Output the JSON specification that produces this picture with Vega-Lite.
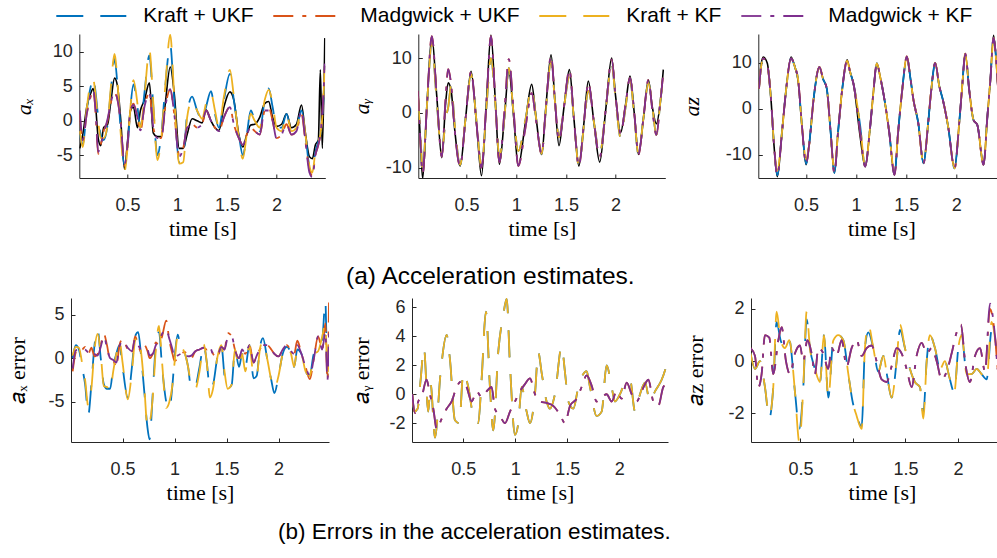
{
"$schema":"https://vega.github.io/schema/vega-lite/v6.json",
"background":"white",
"padding":{"left":6,"top":-20,"right":0,"bottom":0},
"config":{
 "view":{"stroke":null},
 "axis":{"grid":false,"domainColor":"#262626","domainWidth":1,"tickColor":"#262626","tickSize":-4,"tickWidth":1,
   "labelFont":"Liberation Sans","labelFontSize":18,"labelColor":"#262626","labelFlush":false,
   "titleFont":"Liberation Serif","titleFontSize":22,"titleFontWeight":"normal","titleColor":"#000000"},
 "axisX":{"titlePadding":4,"labelPadding":22},
 "axisY":{"labelPadding":11},
 "line":{"strokeWidth":1.8,"interpolate":"monotone"},
 "title":{"font":"Liberation Sans","fontSize":22.5,"fontWeight":"normal","color":"#000000","orient":"bottom","anchor":"start","frame":"group"}
},
"datasets":{
 "names":[{"k":"A","n":"Kraft + UKF"},{"k":"B","n":"Madgwick + UKF"},{"k":"C","n":"Kraft + KF"},{"k":"D","n":"Madgwick + KF"}],
 "ax":[
{"t":0.02,"A":-2,"B":1,"C":-1.5,"D":1.5,"T":-4},
{"t":0.05,"A":-3.5,"B":-3,"C":-3.8,"D":-2.8,"T":-2},
{"t":0.09,"A":1.5,"B":1,"C":1.8,"D":1,"T":2},
{"t":0.13,"A":5,"B":3.5,"C":5.5,"D":3.8,"T":4},
{"t":0.155,"A":6.3,"B":4.5,"C":6,"D":4.5,"T":4.7},
{"t":0.18,"A":4,"B":1,"C":3.5,"D":1.2,"T":2},
{"t":0.205,"A":0.5,"B":-4.8,"C":0,"D":-4.5,"T":-2.5},
{"t":0.23,"A":-2,"B":-3.5,"C":-2.5,"D":-3.5,"T":-3.6},
{"t":0.26,"A":-2.8,"B":-1.5,"C":-2.5,"D":-1.8,"T":-1},
{"t":0.3,"A":-0.5,"B":0,"C":-0.5,"D":0.3,"T":-0.5},
{"t":0.33,"A":4,"B":2.5,"C":4.5,"D":2.5,"T":2.5},
{"t":0.37,"A":9,"B":4,"C":9.7,"D":4.2,"T":6.2},
{"t":0.4,"A":5,"B":3,"C":5.5,"D":3,"T":5},
{"t":0.43,"A":-1,"B":0,"C":-1.5,"D":0,"T":0.5},
{"t":0.47,"A":-6.5,"B":-6.5,"C":-7.3,"D":-6.3,"T":-7},
{"t":0.5,"A":-4,"B":-3.5,"C":-4,"D":-3.5,"T":-3},
{"t":0.53,"A":2,"B":1.5,"C":2,"D":1.5,"T":1.5},
{"t":0.56,"A":5.3,"B":2.5,"C":5.9,"D":2.3,"T":2},
{"t":0.6,"A":2,"B":0.5,"C":2.5,"D":0.5,"T":-1},
{"t":0.63,"A":-1,"B":-1.5,"C":-1,"D":-1.4,"T":1.5},
{"t":0.67,"A":4,"B":2,"C":3.5,"D":2,"T":3},
{"t":0.72,"A":9.5,"B":4,"C":10.3,"D":4,"T":5.5},
{"t":0.76,"A":2,"B":-1,"C":2.5,"D":-1,"T":-1.8},
{"t":0.8,"A":-5,"B":-2.5,"C":-5.7,"D":-2.5,"T":-2.3},
{"t":0.84,"A":-2,"B":-2.5,"C":-2.5,"D":-2.5,"T":-2.3},
{"t":0.88,"A":5,"B":2,"C":5,"D":2,"T":2.5},
{"t":0.93,"A":11,"B":4.5,"C":12.5,"D":4.6,"T":7.8},
{"t":0.97,"A":3,"B":1,"C":3.5,"D":1,"T":4},
{"t":1.02,"A":-6,"B":-5,"C":-6.2,"D":-5.2,"T":-4},
{"t":1.06,"A":-5.5,"B":-4,"C":-6,"D":-4,"T":-4},
{"t":1.1,"A":1,"B":-1,"C":0.5,"D":-1,"T":-2},
{"t":1.15,"A":3.5,"B":-0.5,"C":3,"D":-0.6,"T":0.3},
{"t":1.2,"A":1.5,"B":-1,"C":1.5,"D":-1,"T":0},
{"t":1.25,"A":0,"B":-0.5,"C":0.3,"D":-0.5,"T":-0.3},
{"t":1.29,"A":2,"B":1.5,"C":2.5,"D":1.5,"T":1.6},
{"t":1.34,"A":4.3,"B":0,"C":4,"D":0,"T":0},
{"t":1.38,"A":1,"B":-1,"C":1.5,"D":-1,"T":-1},
{"t":1.42,"A":-1,"B":-1.5,"C":-1,"D":-1.5,"T":-1.4},
{"t":1.47,"A":3,"B":0.5,"C":3.5,"D":0.5,"T":2},
{"t":1.53,"A":6.8,"B":2,"C":7.4,"D":2,"T":4.2},
{"t":1.57,"A":3,"B":-0.5,"C":3.5,"D":-0.5,"T":3},
{"t":1.62,"A":-2,"B":-2.5,"C":-2.5,"D":-2.5,"T":-2},
{"t":1.66,"A":-5,"B":-3.5,"C":-5.5,"D":-3.5,"T":-3.8},
{"t":1.7,"A":-2,"B":-2,"C":-2,"D":-2,"T":-2},
{"t":1.74,"A":1.5,"B":-1,"C":1,"D":-1,"T":-0.6},
{"t":1.78,"A":0,"B":-1.5,"C":0,"D":-1.5,"T":-0.5},
{"t":1.83,"A":-1.5,"B":-2,"C":-1,"D":-2,"T":0.5},
{"t":1.88,"A":3,"B":1.5,"C":3,"D":1.5,"T":2.5},
{"t":1.92,"A":4.7,"B":2,"C":4.5,"D":1.5,"T":2.8},
{"t":1.96,"A":2,"B":0,"C":2.5,"D":0,"T":0.5},
{"t":2.0,"A":-1,"B":-2.5,"C":-1,"D":-2.6,"T":-0.8},
{"t":2.05,"A":-1,"B":-2,"C":-1.5,"D":-2,"T":-0.5},
{"t":2.1,"A":1,"B":-0.5,"C":1,"D":-0.5,"T":1},
{"t":2.15,"A":-1.5,"B":-2,"C":-1.5,"D":-2,"T":-1},
{"t":2.2,"A":-1,"B":-1.5,"C":-1,"D":-1.5,"T":-0.5},
{"t":2.25,"A":1.5,"B":1,"C":1.5,"D":1.5,"T":2.3},
{"t":2.29,"A":-2,"B":-3,"C":-2,"D":-3,"T":-1.8},
{"t":2.33,"A":-6.5,"B":-7,"C":-6.5,"D":-7.5,"T":-5.2},
{"t":2.36,"A":-7,"B":-8,"C":-7.5,"D":-8.2,"T":-5.5},
{"t":2.39,"A":-4.5,"B":-5,"C":-4.5,"D":-5,"T":-3.5},
{"t":2.42,"A":-3,"B":-3.5,"C":-3,"D":-3.5,"T":-2.8},
{"t":2.44,"A":-2,"B":-2,"C":-2,"D":-2,"T":7.4},
{"t":2.46,"A":0,"B":1,"C":0.5,"D":1,"T":-4},
{"t":2.485,"A":8,"B":8,"C":8,"D":8.3,"T":12}
 ],
 "ay":[
{"t":0.01,"A":3,"B":4,"C":3,"D":4,"T":4},
{"t":0.035,"A":-4,"B":-5,"C":-4,"D":-5,"T":-5},
{"t":0.058,"A":-10.5,"B":-11,"C":-10.5,"D":-11,"T":-12},
{"t":0.1,"A":1,"B":1,"C":1,"D":1,"T":1},
{"t":0.15,"A":12.5,"B":14,"C":12.5,"D":14,"T":14},
{"t":0.2,"A":2,"B":3,"C":2,"D":3,"T":3},
{"t":0.25,"A":-7.5,"B":-8,"C":-7.5,"D":-8,"T":-8.2},
{"t":0.29,"A":-1,"B":3,"C":-1,"D":3,"T":2},
{"t":0.315,"A":1,"B":8,"C":1,"D":8,"T":5.5},
{"t":0.345,"A":5,"B":5,"C":5,"D":5,"T":4},
{"t":0.38,"A":-2,"B":-3,"C":-2,"D":-3,"T":-3},
{"t":0.435,"A":-9.5,"B":-9.7,"C":-9.5,"D":-9.7,"T":-9.7},
{"t":0.49,"A":-1,"B":-1,"C":-1,"D":-1,"T":-1},
{"t":0.545,"A":7,"B":7.5,"C":7,"D":7.5,"T":7.6},
{"t":0.6,"A":-1.5,"B":-2,"C":-1.5,"D":-2,"T":-2},
{"t":0.65,"A":-10,"B":-10,"C":-10,"D":-10,"T":-11.5},
{"t":0.7,"A":1,"B":2,"C":1,"D":2,"T":2},
{"t":0.745,"A":10,"B":14,"C":10,"D":14,"T":14.2},
{"t":0.79,"A":1.5,"B":2,"C":1.5,"D":2,"T":2},
{"t":0.83,"A":-8,"B":-9,"C":-8,"D":-9,"T":-9.4},
{"t":0.88,"A":-1,"B":0,"C":-1,"D":0,"T":-1},
{"t":0.925,"A":8.2,"B":9.8,"C":8.2,"D":9.8,"T":7.6},
{"t":0.975,"A":-0.5,"B":0,"C":-0.5,"D":0,"T":-1},
{"t":1.02,"A":-7,"B":-9.7,"C":-7,"D":-9.7,"T":-9.7},
{"t":1.09,"A":-1.5,"B":-3,"C":-1.5,"D":-3,"T":-2},
{"t":1.155,"A":4.5,"B":3.6,"C":4.5,"D":3.6,"T":5.2},
{"t":1.2,"A":-1,"B":-1.5,"C":-1,"D":-1.5,"T":-1},
{"t":1.255,"A":-7.5,"B":-7.5,"C":-7.5,"D":-7.5,"T":-7.6},
{"t":1.3,"A":1,"B":1.5,"C":1,"D":1.5,"T":1.5},
{"t":1.35,"A":9.4,"B":10.4,"C":9.4,"D":10.4,"T":10.6},
{"t":1.39,"A":2,"B":2,"C":2,"D":2,"T":2},
{"t":1.43,"A":-4.5,"B":-5,"C":-4.5,"D":-5,"T":-6},
{"t":1.48,"A":1,"B":1,"C":1,"D":1,"T":1},
{"t":1.535,"A":6.7,"B":7.9,"C":6.7,"D":7.9,"T":7.9},
{"t":1.58,"A":-1,"B":-1,"C":-1,"D":-1,"T":-1},
{"t":1.63,"A":-9.7,"B":-9.7,"C":-9.7,"D":-9.7,"T":-9.7},
{"t":1.68,"A":-2.5,"B":-2,"C":-2.5,"D":-2,"T":-2},
{"t":1.725,"A":4,"B":5.5,"C":4,"D":5.5,"T":5.8},
{"t":1.78,"A":-1.5,"B":-1.5,"C":-1.5,"D":-1.5,"T":-1.5},
{"t":1.84,"A":-7.5,"B":-8,"C":-7.5,"D":-8,"T":-9},
{"t":1.9,"A":0.5,"B":0.5,"C":0.5,"D":0.5,"T":0.5},
{"t":1.96,"A":9,"B":9.7,"C":9,"D":9.7,"T":10},
{"t":2.0,"A":2.5,"B":3,"C":2.5,"D":3,"T":3},
{"t":2.05,"A":-4.5,"B":-3.8,"C":-4.5,"D":-3.8,"T":-3.6},
{"t":2.1,"A":1,"B":1.5,"C":1,"D":1.5,"T":1.5},
{"t":2.145,"A":6,"B":6.4,"C":6,"D":6.4,"T":6.7},
{"t":2.19,"A":-1,"B":-0.5,"C":-1,"D":-0.5,"T":-0.5},
{"t":2.23,"A":-7.6,"B":-7.6,"C":-7.6,"D":-7.6,"T":-7.6},
{"t":2.28,"A":-1,"B":-1,"C":-1,"D":-1,"T":-1},
{"t":2.33,"A":5.5,"B":6,"C":5.5,"D":6,"T":6},
{"t":2.37,"A":1,"B":0.5,"C":1,"D":0.5,"T":1},
{"t":2.41,"A":-4,"B":-4,"C":-4,"D":-4,"T":-2},
{"t":2.45,"A":2,"B":2,"C":2,"D":2,"T":2},
{"t":2.48,"A":7,"B":7.3,"C":7,"D":7.3,"T":7.9}
 ],
 "az":[
{"t":0.03,"A":4.4,"B":4.4,"C":4.4,"D":4.4,"T":4.4},
{"t":0.05,"A":9,"B":9,"C":9,"D":9,"T":9.5},
{"t":0.073,"A":11,"B":11,"C":11,"D":11,"T":11.3},
{"t":0.113,"A":9.5,"B":9.5,"C":9.5,"D":9.5,"T":9.9},
{"t":0.15,"A":2,"B":2,"C":2,"D":2,"T":2},
{"t":0.18,"A":-8,"B":-8,"C":-8,"D":-8,"T":-8},
{"t":0.213,"A":-14.5,"B":-14.5,"C":-13.5,"D":-14.5,"T":-14.8},
{"t":0.26,"A":-5,"B":-5,"C":-5,"D":-5,"T":-5},
{"t":0.3,"A":4,"B":4,"C":4,"D":4,"T":4},
{"t":0.35,"A":11,"B":11,"C":11,"D":11,"T":11.3},
{"t":0.39,"A":9,"B":9,"C":9,"D":9,"T":9},
{"t":0.42,"A":6.5,"B":6.5,"C":6.5,"D":6.5,"T":6.2},
{"t":0.46,"A":-4,"B":-4,"C":-4,"D":-4,"T":-4},
{"t":0.5,"A":-12,"B":-12,"C":-11,"D":-12,"T":-12.2},
{"t":0.53,"A":-8,"B":-8,"C":-8,"D":-8,"T":-8},
{"t":0.58,"A":3,"B":3,"C":3,"D":3,"T":3},
{"t":0.633,"A":9.1,"B":9.1,"C":9.1,"D":9.1,"T":9.1},
{"t":0.67,"A":6.5,"B":6.5,"C":6.5,"D":6.5,"T":6.5},
{"t":0.707,"A":4.4,"B":4.4,"C":4.4,"D":4.4,"T":4.4},
{"t":0.745,"A":-5,"B":-5,"C":-5,"D":-5,"T":-5},
{"t":0.783,"A":-14,"B":-14,"C":-13.5,"D":-14,"T":-14},
{"t":0.82,"A":-5,"B":-5,"C":-5,"D":-5,"T":-5},
{"t":0.86,"A":4,"B":4,"C":4,"D":4,"T":4},
{"t":0.91,"A":10.5,"B":10.5,"C":10.5,"D":10.5,"T":10.7},
{"t":0.94,"A":8,"B":8,"C":8,"D":8,"T":8},
{"t":0.973,"A":5.5,"B":5.5,"C":5.5,"D":5.5,"T":5.5},
{"t":1.04,"A":-3.6,"B":-5,"C":-3.6,"D":-5,"T":-6},
{"t":1.09,"A":-12.6,"B":-12.6,"C":-12.6,"D":-12.6,"T":-12.6},
{"t":1.14,"A":-4,"B":-4,"C":-4,"D":-4,"T":-4},
{"t":1.17,"A":3,"B":3,"C":3,"D":3,"T":3},
{"t":1.207,"A":9.9,"B":9.9,"C":9.9,"D":9.9,"T":9.9},
{"t":1.24,"A":7,"B":7,"C":7,"D":7,"T":7},
{"t":1.273,"A":3.3,"B":3.3,"C":3.3,"D":3.3,"T":3.3},
{"t":1.33,"A":-5,"B":-5,"C":-5,"D":-5,"T":-5},
{"t":1.383,"A":-14.4,"B":-14.4,"C":-14,"D":-14.4,"T":-14.4},
{"t":1.42,"A":-5,"B":-5,"C":-5,"D":-5,"T":-5},
{"t":1.46,"A":4,"B":4,"C":4,"D":4,"T":4},
{"t":1.507,"A":11.4,"B":11.4,"C":11.4,"D":11.4,"T":11.4},
{"t":1.54,"A":7,"B":7,"C":7,"D":7,"T":7},
{"t":1.573,"A":1.9,"B":1.9,"C":1.9,"D":1.9,"T":1.9},
{"t":1.62,"A":-3,"B":-3,"C":-3,"D":-3,"T":-3},
{"t":1.673,"A":-11.9,"B":-11.9,"C":-11.9,"D":-11.9,"T":-11.9},
{"t":1.72,"A":-3,"B":-3,"C":-3,"D":-3,"T":-3},
{"t":1.75,"A":4,"B":4,"C":4,"D":4,"T":4},
{"t":1.79,"A":10,"B":10,"C":10,"D":10,"T":10},
{"t":1.83,"A":5,"B":5,"C":5,"D":5,"T":5},
{"t":1.867,"A":1.9,"B":1.9,"C":1.9,"D":1.9,"T":1.9},
{"t":1.92,"A":-4,"B":-4,"C":-4,"D":-4,"T":-4},
{"t":1.983,"A":-13,"B":-13,"C":-13,"D":-13,"T":-13},
{"t":2.03,"A":-3,"B":-3,"C":-3,"D":-3,"T":-3},
{"t":2.06,"A":5,"B":5,"C":5,"D":5,"T":5},
{"t":2.09,"A":12,"B":12,"C":12,"D":12,"T":12},
{"t":2.13,"A":4,"B":4,"C":4,"D":4,"T":4},
{"t":2.173,"A":-2.5,"B":-2.5,"C":-2.5,"D":-2.5,"T":-2.5},
{"t":2.21,"A":-3.5,"B":-3.5,"C":-3.5,"D":-3.5,"T":-3.5},
{"t":2.273,"A":-12.2,"B":-12.2,"C":-12.2,"D":-12.2,"T":-12.2},
{"t":2.31,"A":-2,"B":-2,"C":-2,"D":-2,"T":-2},
{"t":2.34,"A":6,"B":6,"C":6,"D":6,"T":6},
{"t":2.373,"A":15.5,"B":15.5,"C":15.5,"D":15.5,"T":16},
{"t":2.41,"A":7,"B":7,"C":7,"D":7,"T":7},
{"t":2.44,"A":-3.2,"B":-3.2,"C":-3.2,"D":-3.2,"T":-3.2},
{"t":2.47,"A":-8,"B":-8,"C":-8,"D":-8,"T":-8}
 ],
 "exa":[
{"t":0.02,"A":0,"B":-1.5,"C":0.3,"D":-1.2},
{"t":0.05,"A":1.5,"B":0.7,"C":1.3,"D":0.9},
{"t":0.08,"A":1,"B":1.2,"C":1.2,"D":1},
{"t":0.11,"A":-1,"B":1,"C":-0.5,"D":1.2},
{"t":0.14,"A":-3,"B":1.3,"C":-2.5,"D":1},
{"t":0.17,"A":-6.5,"B":0.5,"C":-5.5,"D":0.7},
{"t":0.2,"A":-3,"B":1.2,"C":-3.5,"D":1},
{"t":0.23,"A":1.5,"B":0.2,"C":1,"D":0.5},
{"t":0.26,"A":3.3,"B":0.5,"C":2.8,"D":0.3},
{"t":0.29,"A":0,"B":1.5,"C":0.5,"D":1.3},
{"t":0.32,"A":-3,"B":2.8,"C":-3.2,"D":2.5},
{"t":0.35,"A":-3.5,"B":1.5,"C":-3.3,"D":1.2},
{"t":0.38,"A":-3.5,"B":-0.2,"C":-3.8,"D":0},
{"t":0.41,"A":-1,"B":-0.3,"C":-1.5,"D":-0.2},
{"t":0.44,"A":0.5,"B":-1,"C":0.5,"D":-0.5},
{"t":0.47,"A":1.5,"B":1.5,"C":2,"D":1.3},
{"t":0.5,"A":-1,"B":2.2,"C":-0.5,"D":2},
{"t":0.55,"A":-4.5,"B":1,"C":-4.7,"D":1.2},
{"t":0.59,"A":-1,"B":0.5,"C":-1.5,"D":0.8},
{"t":0.62,"A":2.5,"B":2.5,"C":2,"D":2.2},
{"t":0.65,"A":3,"B":1.5,"C":2.5,"D":1.5},
{"t":0.68,"A":0,"B":0.7,"C":0.5,"D":1},
{"t":0.71,"A":-4,"B":1.5,"C":-3.5,"D":1.2},
{"t":0.74,"A":-8,"B":0.8,"C":-8,"D":1},
{"t":0.76,"A":-9.3,"B":0,"C":-7.5,"D":0.3},
{"t":0.79,"A":-4,"B":0.5,"C":-4.5,"D":0.5},
{"t":0.82,"A":1.5,"B":1.8,"C":1,"D":1.5},
{"t":0.85,"A":3,"B":1.5,"C":3.7,"D":2},
{"t":0.88,"A":-1,"B":2.5,"C":-0.5,"D":2.8},
{"t":0.92,"A":-5,"B":4.3,"C":-5.7,"D":3.3},
{"t":0.95,"A":-5.8,"B":2,"C":-5,"D":2.2},
{"t":0.98,"A":-3,"B":0.5,"C":-3,"D":1},
{"t":1.0,"A":0,"B":-0.3,"C":-0.5,"D":0},
{"t":1.03,"A":2.7,"B":0,"C":2.5,"D":0.3},
{"t":1.06,"A":1,"B":0.5,"C":1.5,"D":0.5},
{"t":1.1,"A":0.5,"B":0.7,"C":0.5,"D":0.7},
{"t":1.13,"A":-1,"B":0.2,"C":-1,"D":0.2},
{"t":1.16,"A":-3.5,"B":0,"C":-3,"D":0.3},
{"t":1.2,"A":-3.2,"B":0.8,"C":-3.5,"D":0.8},
{"t":1.24,"A":-1,"B":1,"C":-1.5,"D":1},
{"t":1.28,"A":1.5,"B":1.2,"C":1.6,"D":1.2},
{"t":1.31,"A":-0.5,"B":1,"C":-0.5,"D":1},
{"t":1.34,"A":-3.5,"B":1.3,"C":-4.5,"D":1.2},
{"t":1.37,"A":-3,"B":0.5,"C":-3.5,"D":0.5},
{"t":1.41,"A":0,"B":0,"C":0,"D":0.3},
{"t":1.45,"A":1.5,"B":1.3,"C":1.5,"D":1.3},
{"t":1.48,"A":-2,"B":1,"C":-1.5,"D":1},
{"t":1.51,"A":-3.5,"B":2.9,"C":-3.5,"D":2.3},
{"t":1.55,"A":-3,"B":2.5,"C":-3,"D":2.5},
{"t":1.58,"A":1,"B":1,"C":1,"D":1},
{"t":1.62,"A":-1,"B":0,"C":-1,"D":0},
{"t":1.65,"A":0.5,"B":1,"C":0.5,"D":1},
{"t":1.68,"A":-1,"B":0.5,"C":-1.5,"D":0.5},
{"t":1.72,"A":1.5,"B":1.5,"C":1.5,"D":1.5},
{"t":1.76,"A":-2.3,"B":-0.5,"C":-2,"D":-0.5},
{"t":1.79,"A":-2,"B":0.3,"C":-2,"D":0.3},
{"t":1.82,"A":1.2,"B":1,"C":1,"D":1},
{"t":1.85,"A":2.3,"B":1.5,"C":2,"D":1.5},
{"t":1.89,"A":0,"B":1.5,"C":0,"D":1.5},
{"t":1.93,"A":-2.5,"B":1,"C":-2.5,"D":1},
{"t":1.96,"A":-4,"B":0.5,"C":-3.5,"D":0.5},
{"t":2.0,"A":-2,"B":0.2,"C":-2,"D":0.2},
{"t":2.04,"A":0.5,"B":1,"C":0.5,"D":1},
{"t":2.08,"A":1.3,"B":1.5,"C":1.3,"D":1.5},
{"t":2.12,"A":0.5,"B":0.8,"C":0.5,"D":0.8},
{"t":2.15,"A":-1,"B":0.5,"C":-1,"D":0.5},
{"t":2.18,"A":1,"B":2,"C":1,"D":1.5},
{"t":2.22,"A":0.5,"B":0.5,"C":0.5,"D":0.5},
{"t":2.26,"A":-1.5,"B":-1,"C":-1.5,"D":-1},
{"t":2.3,"A":-2,"B":-2.4,"C":-2,"D":-2},
{"t":2.34,"A":0.5,"B":0,"C":0.5,"D":0},
{"t":2.38,"A":0.8,"B":2.5,"C":0.8,"D":2.5},
{"t":2.42,"A":2,"B":1,"C":2.5,"D":1},
{"t":2.45,"A":6.5,"B":4,"C":4,"D":3},
{"t":2.47,"A":-2,"B":-2.5,"C":-2,"D":-2.5},
{"t":2.485,"A":1,"B":6.5,"C":1.5,"D":3}
 ],
 "eya":[
{"t":0.01,"A":0,"C":0},{"t":0.029,"A":-1.2,"C":-1.2},{"t":0.061,"A":-1,"C":-1},{"t":0.09,"A":1,"C":1},{"t":0.122,"A":3.2,"C":3.2},{"t":0.163,"A":-1.2,"C":-1.2},{"t":0.186,"A":0.7,"C":0.7},{"t":0.228,"A":-3,"C":-3},{"t":0.282,"A":1.5,"C":1.5},{"t":0.34,"A":4.1,"C":4.1},{"t":0.372,"A":2.4,"C":2.4},{"t":0.42,"A":-1.8,"C":-1.8},{"t":0.462,"A":-2,"C":-2},{"t":0.5,"A":1.5,"C":1.5},{"t":0.548,"A":0.5,"C":0.5},{"t":0.596,"A":-1.5,"C":-1.5},{"t":0.644,"A":-2,"C":-2},{"t":0.676,"A":1,"C":1},{"t":0.718,"A":5.7,"C":5.7},{"t":0.756,"A":0.5,"C":0.5},{"t":0.788,"A":-2.5,"C":-2.5},{"t":0.837,"A":3,"C":3},{"t":0.885,"A":5.5,"C":5.5},{"t":0.917,"A":6.6,"C":6.6},{"t":0.949,"A":2,"C":2},{"t":0.997,"A":-2.8,"C":-2.8},{"t":1.029,"A":-2,"C":-2},{"t":1.061,"A":0.5,"C":0.5},{"t":1.109,"A":-1.2,"C":-1.2},{"t":1.141,"A":-2,"C":-2},{"t":1.189,"A":0,"C":0},{"t":1.221,"A":2.9,"C":2.9},{"t":1.253,"A":1.5,"C":1.5},{"t":1.301,"A":-0.5,"C":-0.5},{"t":1.333,"A":-1,"C":-1},{"t":1.381,"A":0,"C":0},{"t":1.446,"A":3.3,"C":3.3},{"t":1.478,"A":1.5,"C":1.5},{"t":1.51,"A":-0.5,"C":-0.5},{"t":1.558,"A":-1,"C":-1},{"t":1.606,"A":0.5,"C":0.5},{"t":1.686,"A":1.6,"C":1.6},{"t":1.718,"A":0.5,"C":0.5},{"t":1.782,"A":-1.5,"C":-1.5},{"t":1.83,"A":-1.2,"C":-1.2},{"t":1.878,"A":2,"C":2},{"t":1.926,"A":0.5,"C":0.5},{"t":1.958,"A":-0.5,"C":-0.5},{"t":2.006,"A":0,"C":0},{"t":2.071,"A":1,"C":1},{"t":2.103,"A":1,"C":1},{"t":2.151,"A":-1.2,"C":-1.2},{"t":2.199,"A":0,"C":0},{"t":2.247,"A":0.8,"C":0.8},{"t":2.295,"A":-0.5,"C":-0.5},{"t":2.343,"A":0.2,"C":0.2},{"t":2.407,"A":1,"C":1},{"t":2.471,"A":2.4,"C":2.4},
{"t":0.01,"B":0,"D":0},{"t":0.035,"B":-1.3,"D":-1.3},{"t":0.067,"B":-0.5,"D":-0.5},{"t":0.099,"B":-0.2,"D":-0.2},{"t":0.147,"B":1,"D":1},{"t":0.179,"B":0,"D":0},{"t":0.212,"B":-1,"D":-1},{"t":0.244,"B":-2.4,"D":-2.4},{"t":0.292,"B":-1.7,"D":-1.7},{"t":0.34,"B":-1,"D":-1},{"t":0.388,"B":-0.5,"D":-0.5},{"t":0.436,"B":0.5,"D":0.5},{"t":0.484,"B":0.9,"D":0.9},{"t":0.532,"B":0.5,"D":0.5},{"t":0.58,"B":-0.5,"D":-0.5},{"t":0.628,"B":0.2,"D":0.2},{"t":0.676,"B":-0.2,"D":-0.2},{"t":0.724,"B":0.2,"D":0.2},{"t":0.772,"B":0.5,"D":0.5},{"t":0.804,"B":-1,"D":-1},{"t":0.853,"B":-1.5,"D":-1.5},{"t":0.901,"B":-2,"D":-2},{"t":0.949,"B":-1.2,"D":-1.2},{"t":0.997,"B":-0.5,"D":-0.5},{"t":1.045,"B":0.2,"D":0.2},{"t":1.093,"B":0.7,"D":0.7},{"t":1.141,"B":1.1,"D":1.1},{"t":1.189,"B":0,"D":0},{"t":1.237,"B":-0.5,"D":-0.5},{"t":1.301,"B":-0.6,"D":-0.6},{"t":1.365,"B":-0.8,"D":-0.8},{"t":1.429,"B":-1.4,"D":-1.4},{"t":1.478,"B":-2,"D":-2},{"t":1.526,"B":-0.8,"D":-0.8},{"t":1.59,"B":-0.3,"D":-0.3},{"t":1.638,"B":0.5,"D":0.5},{"t":1.686,"B":1.3,"D":1.3},{"t":1.734,"B":0.6,"D":0.6},{"t":1.782,"B":-0.5,"D":-0.5},{"t":1.83,"B":-0.2,"D":-0.2},{"t":1.878,"B":0,"D":0},{"t":1.926,"B":-0.5,"D":-0.5},{"t":1.974,"B":0.2,"D":0.2},{"t":2.022,"B":-0.3,"D":-0.3},{"t":2.071,"B":0.8,"D":0.8},{"t":2.119,"B":0,"D":0},{"t":2.167,"B":-0.5,"D":-0.5},{"t":2.215,"B":0.2,"D":0.2},{"t":2.279,"B":1,"D":1},{"t":2.327,"B":-0.5,"D":-0.5},{"t":2.375,"B":-0.8,"D":-0.8},{"t":2.423,"B":0.5,"D":0.5},{"t":2.471,"B":0.8,"D":0.8}
 ],
 "eza":[
{"t":0.025,"A":0.3,"C":0.3},{"t":0.067,"A":-0.3,"C":-0.3},{"t":0.114,"A":0,"C":0},{"t":0.162,"A":-1,"C":-1},{"t":0.203,"A":-2.2,"C":-2.1},{"t":0.241,"A":-1,"C":-1},{"t":0.273,"A":1.5,"C":1.9},{"t":0.311,"A":0.8,"C":0.8},{"t":0.352,"A":0.5,"C":0.5},{"t":0.394,"A":0.8,"C":0.8},{"t":0.448,"A":-1.2,"C":-1.2},{"t":0.489,"A":-2.6,"C":-3.1},{"t":0.527,"A":-1,"C":-1},{"t":0.559,"A":1.6,"C":1.9},{"t":0.59,"A":0.5,"C":0.5},{"t":0.638,"A":-0.3,"C":-0.3},{"t":0.686,"A":-0.8,"C":-0.8},{"t":0.724,"A":1,"C":1},{"t":0.765,"A":-1.4,"C":-1.4},{"t":0.813,"A":0.8,"C":0.8},{"t":0.86,"A":1,"C":1},{"t":0.908,"A":0.8,"C":0.8},{"t":0.956,"A":-0.5,"C":-0.5},{"t":0.994,"A":-1.5,"C":-1.5},{"t":1.035,"A":-2.1,"C":-2.1},{"t":1.083,"A":-2.5,"C":-2.6},{"t":1.114,"A":0.5,"C":0.5},{"t":1.146,"A":1.1,"C":1.4},{"t":1.194,"A":0.5,"C":0.5},{"t":1.241,"A":-0.4,"C":-0.4},{"t":1.289,"A":0.2,"C":0.2},{"t":1.327,"A":-0.6,"C":-0.6},{"t":1.368,"A":-1.4,"C":-1.4},{"t":1.416,"A":0,"C":0},{"t":1.448,"A":1.2,"C":1.4},{"t":1.495,"A":0.5,"C":0.5},{"t":1.543,"A":-0.3,"C":-0.3},{"t":1.59,"A":-0.8,"C":-0.8},{"t":1.638,"A":-1,"C":-1},{"t":1.67,"A":-2,"C":-2.2},{"t":1.702,"A":0,"C":0},{"t":1.733,"A":1,"C":1},{"t":1.781,"A":0.5,"C":0.5},{"t":1.829,"A":-0.3,"C":-0.3},{"t":1.876,"A":0,"C":0},{"t":1.917,"A":-0.6,"C":-0.6},{"t":1.965,"A":-1.2,"C":-1.2},{"t":2.003,"A":0.5,"C":0.5},{"t":2.035,"A":1,"C":1},{"t":2.083,"A":-0.5,"C":-0.5},{"t":2.13,"A":-0.5,"C":-0.5},{"t":2.178,"A":-0.3,"C":-0.3},{"t":2.225,"A":-0.5,"C":-0.5},{"t":2.273,"A":-0.7,"C":-0.7},{"t":2.321,"A":1.2,"C":1.5},{"t":2.368,"A":0.5,"C":0.5},{"t":2.42,"A":-0.3,"C":-0.3},{"t":2.48,"A":0.5,"C":0.5},
{"t":0.025,"B":0.5,"D":0.5},{"t":0.067,"B":0.2,"D":0.2},{"t":0.098,"B":-1,"D":-1},{"t":0.13,"B":-0.5,"D":-0.5},{"t":0.162,"B":1,"D":1},{"t":0.203,"B":0.9,"D":0.9},{"t":0.241,"B":-0.5,"D":-0.5},{"t":0.289,"B":0.8,"D":0.8},{"t":0.321,"B":1.3,"D":1.3},{"t":0.362,"B":0,"D":0},{"t":0.4,"B":-0.5,"D":-0.5},{"t":0.448,"B":0.3,"D":0.3},{"t":0.495,"B":0.6,"D":0.6},{"t":0.527,"B":0,"D":0},{"t":0.565,"B":0.8,"D":0.8},{"t":0.606,"B":0.3,"D":0.3},{"t":0.638,"B":-0.5,"D":-0.5},{"t":0.67,"B":0.5,"D":0.5},{"t":0.717,"B":0.3,"D":0.3},{"t":0.765,"B":-0.3,"D":-0.3},{"t":0.797,"B":0.5,"D":0.5},{"t":0.844,"B":0.2,"D":0.2},{"t":0.892,"B":0.8,"D":0.8},{"t":0.94,"B":-0.2,"D":-0.2},{"t":0.987,"B":0.5,"D":0.5},{"t":1.035,"B":0.8,"D":0.8},{"t":1.083,"B":0.2,"D":0.2},{"t":1.13,"B":0.5,"D":0.5},{"t":1.178,"B":0.6,"D":0.6},{"t":1.225,"B":0,"D":0},{"t":1.273,"B":-0.7,"D":-0.7},{"t":1.321,"B":-0.8,"D":-0.8},{"t":1.368,"B":-0.2,"D":-0.2},{"t":1.416,"B":0.5,"D":0.5},{"t":1.463,"B":0.3,"D":0.3},{"t":1.511,"B":-0.3,"D":-0.3},{"t":1.559,"B":-1,"D":-1},{"t":1.606,"B":0.2,"D":0.2},{"t":1.654,"B":0.7,"D":0.7},{"t":1.702,"B":0.3,"D":0.3},{"t":1.749,"B":0.5,"D":0.5},{"t":1.797,"B":0,"D":0},{"t":1.844,"B":-0.7,"D":-0.7},{"t":1.892,"B":-0.4,"D":-0.4},{"t":1.94,"B":0.3,"D":0.3},{"t":1.987,"B":1.1,"D":1.1},{"t":2.029,"B":1.4,"D":1.4},{"t":2.067,"B":0,"D":0},{"t":2.114,"B":-0.8,"D":-0.8},{"t":2.162,"B":0.2,"D":0.2},{"t":2.21,"B":0.5,"D":0.5},{"t":2.257,"B":-0.4,"D":-0.4},{"t":2.305,"B":2,"D":2.2},{"t":2.352,"B":1,"D":1},{"t":2.384,"B":-0.4,"D":-0.4},{"t":2.43,"B":0.3,"D":0.3},{"t":2.48,"B":-0.2,"D":-0.2}
 ]
},
"vconcat":[
 {"title":{"text":"(a) Acceleration estimates.","offset":26,"dx":275,"fontSize":24.5},
  "spacing":7.3,"bounds":"flush",
  "resolve":{"scale":{"color":"shared","strokeDash":"shared"}},
  "hconcat":[
   {"width":1,"height":144,"data":{"values":[{"z":1}]},"mark":{"type":"point","opacity":0},"encoding":{}},
   {"spacing":93,"bounds":"flush",
    "resolve":{"scale":{"color":"shared","strokeDash":"shared"}},
    "hconcat":[
   {"width":246,"height":144,"data":{"name":"ax"},
    "layer":[
     {"transform":[{"filter":"isValid(datum.T)"}],"mark":{"type":"line","color":"#000000","strokeWidth":1.6,"clip":true},
      "encoding":{"x":{"field":"t","type":"quantitative","scale":{"domain":[0.015,2.49],"nice":false},"axis":{"values":[0.5,1,1.5,2],"labelExpr":"''+datum.value","title":"time [s]"}},
                  "y":{"field":"T","type":"quantitative","scale":{"domain":[-8.3,12.6],"nice":false,"zero":false},"axis":{"values":[-5,0,5,10],"labelExpr":"''+datum.value","title":"aₓ","titleFontStyle":"italic","titlePadding":17}}}},
     {"transform":[{"fold":["A","B","C","D"],"as":["k","v"]},{"filter":"isValid(datum.v)"},{"lookup":"k","from":{"data":{"name":"names"},"key":"k","fields":["n"]}}],
      "mark":{"type":"line","clip":true},
      "encoding":{"x":{"field":"t","type":"quantitative","scale":{"nice":false}},
                  "y":{"field":"v","type":"quantitative","scale":{"nice":false,"zero":false}},
                  "color":{"field":"n","type":"nominal","sort":null,"scale":{"domain":["Kraft + UKF","Madgwick + UKF","Kraft + KF","Madgwick + KF"],"range":["#0072BD","#D95319","#EDB120","#7E2F8E"]},
                    "legend":{"orient":"none","legendX":-15.7,"legendY":-54,"direction":"horizontal","title":null,"symbolType":"stroke","symbolSize":4900,"symbolStrokeWidth":1.8,"labelFont":"Liberation Sans","labelFontSize":21,"labelColor":"#000000","labelOffset":16,"columnPadding":15,"labelLimit":300}},
                  "strokeDash":{"field":"n","type":"nominal","sort":null,"scale":{"domain":["Kraft + UKF","Madgwick + UKF","Kraft + KF","Madgwick + KF"],"range":[[27,17],[20,9,4,9],[27,17],[20,9,4,9]]},
                    "legend":{"orient":"none","legendX":-15.7,"legendY":-54,"direction":"horizontal","title":null,"symbolType":"stroke","symbolSize":4900,"symbolStrokeWidth":1.8,"labelFont":"Liberation Sans","labelFontSize":21,"labelColor":"#000000","labelOffset":16,"columnPadding":15,"labelLimit":300}}}}
    ]},
   {"width":247,"height":144,"data":{"name":"ay"},
    "layer":[
     {"transform":[{"filter":"isValid(datum.T)"}],"mark":{"type":"line","color":"#000000","strokeWidth":1.6,"clip":true},
      "encoding":{"x":{"field":"t","type":"quantitative","scale":{"domain":[0.014,2.5],"nice":false},"axis":{"values":[0.5,1,1.5,2],"labelExpr":"''+datum.value","title":"time [s]"}},
                  "y":{"field":"T","type":"quantitative","scale":{"domain":[-11.9,14.4],"nice":false,"zero":false},"axis":{"values":[-10,0,10],"labelExpr":"''+datum.value","title":"aᵧ","titleFontStyle":"italic","titlePadding":12}}}},
     {"transform":[{"fold":["A","B","C","D"],"as":["k","v"]},{"filter":"isValid(datum.v)"},{"lookup":"k","from":{"data":{"name":"names"},"key":"k","fields":["n"]}}],
      "mark":{"type":"line","clip":true},
      "encoding":{"x":{"field":"t","type":"quantitative","scale":{"nice":false}},"y":{"field":"v","type":"quantitative","scale":{"nice":false,"zero":false}},
                  "color":{"field":"n","type":"nominal","sort":null},"strokeDash":{"field":"n","type":"nominal","sort":null}}}
    ]},
   {"width":246,"height":144,"data":{"name":"az"},
    "layer":[
     {"transform":[{"filter":"isValid(datum.T)"}],"mark":{"type":"line","color":"#000000","strokeWidth":1.6,"clip":true},
      "encoding":{"x":{"field":"t","type":"quantitative","scale":{"domain":[0.023,2.48],"nice":false},"axis":{"values":[0.5,1,1.5,2],"labelExpr":"''+datum.value","title":"time [s]"}},
                  "y":{"field":"T","type":"quantitative","scale":{"domain":[-15.1,16.3],"nice":false,"zero":false},"axis":{"values":[-10,0,10],"labelExpr":"''+datum.value","title":"aᴢ","titleFontStyle":"italic","titlePadding":22}}}},
     {"transform":[{"fold":["A","B","C","D"],"as":["k","v"]},{"filter":"isValid(datum.v)"},{"lookup":"k","from":{"data":{"name":"names"},"key":"k","fields":["n"]}}],
      "mark":{"type":"line","clip":true},
      "encoding":{"x":{"field":"t","type":"quantitative","scale":{"nice":false}},"y":{"field":"v","type":"quantitative","scale":{"nice":false,"zero":false}},
                  "color":{"field":"n","type":"nominal","sort":null},"strokeDash":{"field":"n","type":"nominal","sort":null}}}
    ]}
    ]}
  ]},
 {"title":{"text":"(b) Errors in the acceleration estimates.","offset":18,"dx":207},
  "spacing":83,"bounds":"flush",
  "resolve":{"scale":{"color":"shared","strokeDash":"shared"}},
  "hconcat":[
   {"width":258,"height":144,"data":{"name":"exa"},
    "transform":[{"fold":["A","B","C","D"],"as":["k","v"]},{"filter":"isValid(datum.v)"},{"lookup":"k","from":{"data":{"name":"names"},"key":"k","fields":["n"]}}],
    "mark":{"type":"line","clip":true},
    "encoding":{"x":{"field":"t","type":"quantitative","scale":{"domain":[0.004,2.485],"nice":false},"axis":{"values":[0.5,1,1.5,2],"labelExpr":"''+datum.value","title":"time [s]"}},
                "y":{"field":"v","type":"quantitative","scale":{"domain":[-9.6,6.9],"nice":false,"zero":false},"axis":{"values":[-5,0,5],"labelExpr":"''+datum.value","title":"𝑎ₓ error","titlePadding":18}},
                "color":{"field":"n","type":"nominal","sort":null},"strokeDash":{"field":"n","type":"nominal","sort":null}}},
   {"width":256,"height":144,"data":{"name":"eya"},
    "transform":[{"fold":["A","B","C","D"],"as":["k","v"]},{"filter":"isValid(datum.v)"},{"lookup":"k","from":{"data":{"name":"names"},"key":"k","fields":["n"]}}],
    "mark":{"type":"line","clip":true},
    "encoding":{"x":{"field":"t","type":"quantitative","scale":{"domain":[0.007,2.468],"nice":false},"axis":{"values":[0.5,1,1.5,2],"labelExpr":"''+datum.value","title":"time [s]"}},
                "y":{"field":"v","type":"quantitative","scale":{"domain":[-3.3,6.65],"nice":false,"zero":false},"axis":{"values":[-2,0,2,4,6],"labelExpr":"''+datum.value","title":"𝑎ᵧ error","titlePadding":15}},
                "color":{"field":"n","type":"nominal","sort":null},"strokeDash":{"field":"n","type":"nominal","sort":null}}},
   {"width":262,"height":144,"data":{"name":"eza"},
    "transform":[{"fold":["A","B","C","D"],"as":["k","v"]},{"filter":"isValid(datum.v)"},{"lookup":"k","from":{"data":{"name":"names"},"key":"k","fields":["n"]}}],
    "mark":{"type":"line","clip":true},
    "encoding":{"x":{"field":"t","type":"quantitative","scale":{"domain":[0.029,2.524],"nice":false},"axis":{"values":[0.5,1,1.5,2],"labelExpr":"''+datum.value","title":"time [s]"}},
                "y":{"field":"v","type":"quantitative","scale":{"domain":[-3.1,2.42],"nice":false,"zero":false},"axis":{"values":[-2,0,2],"labelExpr":"''+datum.value","title":"𝑎ᴢ error","titlePadding":20}},
                "color":{"field":"n","type":"nominal","sort":null},"strokeDash":{"field":"n","type":"nominal","sort":null}}}
  ]}
],
"spacing":264,"bounds":"flush",
"resolve":{"scale":{"color":"shared","strokeDash":"shared"}}
}
